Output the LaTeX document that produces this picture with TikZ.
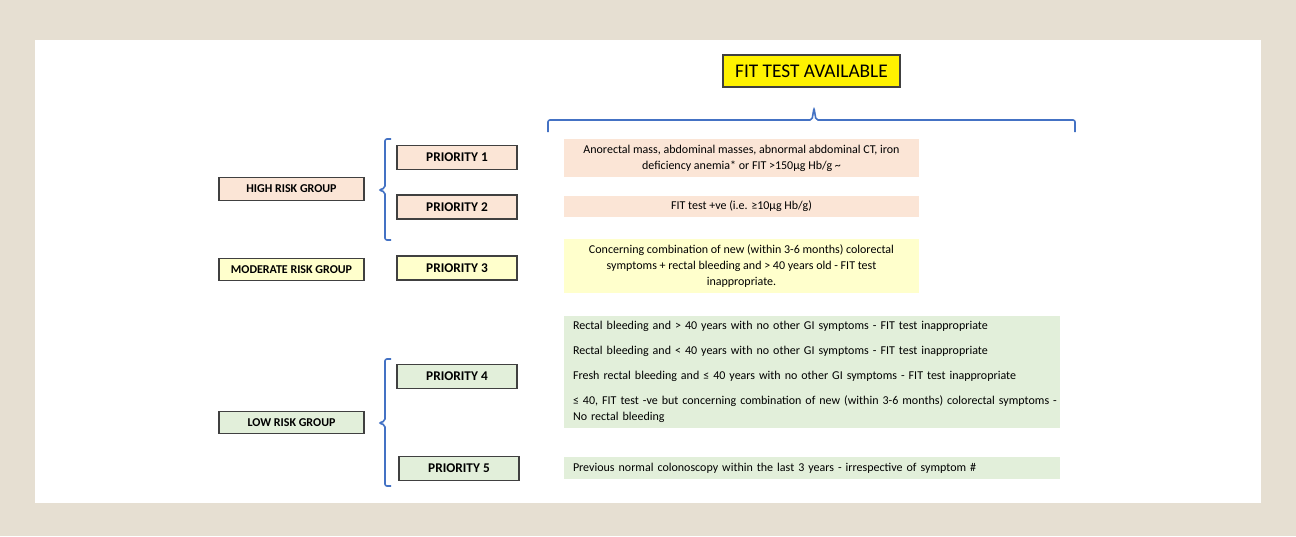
\documentclass[tikz,border=0pt]{standalone}
\usepackage{fontspec}
\setmainfont{Carlito}
\definecolor{bgbeige}{HTML}{E6DFD2}
\definecolor{peach}{HTML}{FBE5D6}
\definecolor{paleyellow}{HTML}{FFFFCC}
\definecolor{palegreen}{HTML}{E2EFDA}
\definecolor{braceblue}{HTML}{4472C4}
\definecolor{boxgray}{HTML}{404040}

\begin{document}
\begin{tikzpicture}[x=0.75pt,y=-0.75pt,
  box/.style={draw=boxgray,line width=0.9pt,inner sep=0pt,font=\bfseries\fontsize{10}{12}\selectfont,minimum width=90pt,minimum height=18pt},
  group/.style={box,font=\bfseries\fontsize{9}{11}\selectfont,minimum width=108.75pt,minimum height=17pt},
  info/.style={inner sep=0pt,font=\fontsize{9}{12}\selectfont,align=center,minimum width=266.25pt},
  infoleft/.style={inner xsep=6.75pt,inner ysep=0pt,font=\fontsize{9}{12}\selectfont,align=left,text width=358.5pt,fill=palegreen},
  brace/.style={draw=braceblue,line width=1.2pt,rounded corners=1.5pt}]
\useasboundingbox (0,0) rectangle (1296,536);
\fill[bgbeige] (0,0) rectangle (1296,536);
\fill[white] (35,40) rectangle (1261,503);

% heading
\node[draw=boxgray,line width=0.9pt,fill=yellow,inner sep=0pt,minimum width=132.75pt,minimum height=24pt,font=\fontsize{14.5}{17}\selectfont] at (811.5,71) (fit) {FIT TEST AVAILABLE};

% risk groups
\node[group,fill=peach] at (291.5,189) (high) {HIGH RISK GROUP};
\node[group,fill=paleyellow] at (291.5,269.5) (moderate) {MODERATE RISK GROUP};
\node[group,fill=palegreen] at (291.5,422.5) (low) {LOW RISK GROUP};

% priorities
\node[box,fill=peach] at (457,157.5) (p1) {PRIORITY 1};
\node[box,fill=peach] at (457,207) (p2) {PRIORITY 2};
\node[box,fill=paleyellow] at (457,268) (p3) {PRIORITY 3};
\node[box,fill=palegreen] at (457,376.5) (p4) {PRIORITY 4};
\node[box,fill=palegreen] at (459,468.5) (p5) {PRIORITY 5};

% criteria
\node[info,fill=peach,minimum height=28.5pt] at (741.5,158) (c1) {Anorectal mass, abdominal masses, abnormal abdominal CT, iron\\deficiency anemia* or FIT >150µg Hb/g \textasciitilde};
\node[info,fill=peach,minimum height=15.75pt] at (741.5,206.5) (c2) {FIT test +ve (i.e. ≥10µg Hb/g)};
\node[info,fill=paleyellow,minimum height=40.5pt] at (741.5,266) (c3) {Concerning combination of new (within 3-6 months) colorectal\\symptoms + rectal bleeding and > 40 years old - FIT test\\inappropriate.};
\node[infoleft,minimum height=84pt] at (812,372) (c4) {\mbox{Rectal bleeding and > 40 years with no other GI symptoms - FIT test inappropriate}\\[6.75pt]
\mbox{Rectal bleeding and < 40 years with no other GI symptoms - FIT test inappropriate}\\[6.75pt]
\mbox{Fresh rectal bleeding and ≤ 40 years with no other GI symptoms - FIT test inappropriate}\\[6.75pt]
\mbox{≤ 40, FIT test -ve but concerning combination of new (within 3-6 months) colorectal symptoms -}\\No rectal bleeding};
\node[infoleft,minimum height=16.5pt] at (812,468) (c5) {Previous normal colonoscopy within the last 3 years - irrespective of symptom \#};

% braces
\coordinate (tl) at (548,132);
\coordinate (tt) at (814,108);
\coordinate (tr) at (1075,132);
\draw[brace] (tl) -- (548,120) -- (812,120) -- (tt) -- (816,120) -- (1075,120) -- (tr);
\coordinate (ht) at (391,139);
\coordinate (hm) at (379,190);
\coordinate (hb) at (391,240);
\draw[brace] (ht) -- (385,139) -- (385,188) -- (hm) -- (385,192) -- (385,240) -- (hb);
\coordinate (lt) at (391,359);
\coordinate (lm) at (379,423);
\coordinate (lb) at (391,486);
\draw[brace] (lt) -- (385,359) -- (385,421) -- (lm) -- (385,425) -- (385,486) -- (lb);
\end{tikzpicture}
\end{document}
